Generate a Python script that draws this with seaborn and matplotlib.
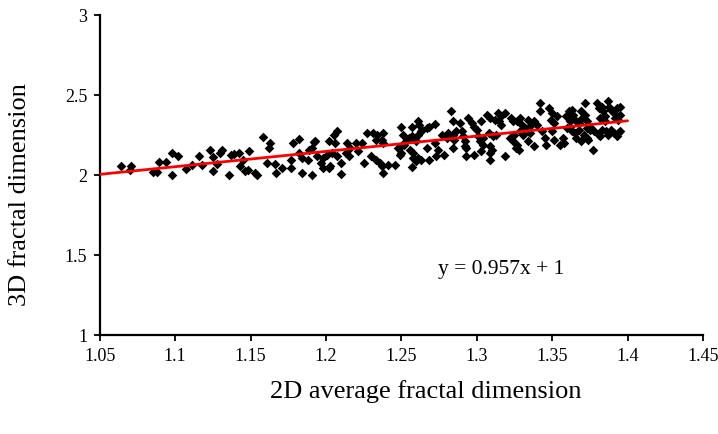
import numpy as np
import pandas as pd
import seaborn as sns
import matplotlib.pyplot as plt
from matplotlib.ticker import FuncFormatter, MultipleLocator

# values (2D avg fractal dim, 3D fractal dim)
x_2d = [
    1.064, 1.071, 1.070, 1.085, 1.088, 1.089, 1.094, 1.098, 1.102, 1.098, 1.107,
    1.111, 1.116, 1.118, 1.123, 1.125, 1.125, 1.128, 1.130, 1.131, 1.136, 1.137,
    1.139, 1.142, 1.143, 1.145, 1.146, 1.148, 1.149, 1.153, 1.154, 1.158, 1.163,
    1.162, 1.161, 1.166, 1.167,
    1.171, 1.178, 1.182, 1.177, 1.182, 1.184, 1.177, 1.184, 1.188, 1.189, 1.191,
    1.192, 1.193, 1.191, 1.194, 1.198, 1.197, 1.198, 1.202, 1.203, 1.201, 1.202,
    1.205, 1.207, 1.206, 1.204, 1.207, 1.210, 1.210, 1.213, 1.215, 1.214, 1.216,
    1.220, 1.221, 1.225, 1.224, 1.227,
    1.231, 1.234, 1.233, 1.238, 1.237, 1.238, 1.230, 1.233, 1.236, 1.237, 1.238,
    1.241, 1.246, 1.250, 1.251, 1.248, 1.250, 1.252, 1.253, 1.255, 1.249, 1.250,
    1.257, 1.261, 1.262, 1.257, 1.259, 1.260, 1.261, 1.263, 1.264, 1.267, 1.268,
    1.256, 1.258, 1.261, 1.260, 1.263, 1.258, 1.257, 1.267, 1.268, 1.272, 1.272,
    1.274, 1.273, 1.278, 1.277, 1.280, 1.281, 1.284, 1.285, 1.286, 1.283, 1.284,
    1.284,
    1.289, 1.290, 1.291, 1.292, 1.293, 1.293, 1.292, 1.294, 1.297, 1.298, 1.300,
    1.298, 1.303, 1.301, 1.302, 1.304, 1.304, 1.303, 1.307, 1.309, 1.312, 1.309,
    1.310, 1.309, 1.309, 1.308, 1.311, 1.313, 1.314, 1.316, 1.319, 1.315, 1.316,
    1.319, 1.323, 1.324, 1.322, 1.324, 1.325, 1.326, 1.327, 1.328, 1.327, 1.329,
    1.330, 1.332, 1.334, 1.336, 1.338, 1.340, 1.329, 1.331, 1.335, 1.334, 1.338,
    1.342, 1.342, 1.343, 1.345, 1.346,
    1.348, 1.350, 1.349, 1.351, 1.353, 1.350, 1.351, 1.357, 1.358, 1.355, 1.359,
    1.361, 1.363, 1.364, 1.362, 1.365, 1.368, 1.360, 1.362, 1.363, 1.365, 1.368,
    1.366, 1.369, 1.369, 1.372, 1.370, 1.372, 1.373, 1.371, 1.373, 1.374, 1.373,
    1.375, 1.377, 1.380, 1.381, 1.383, 1.384, 1.382, 1.385, 1.385, 1.387, 1.388,
    1.389, 1.391, 1.393, 1.395, 1.392, 1.394, 1.395, 1.378, 1.381, 1.382, 1.383,
    1.386, 1.387, 1.389, 1.391, 1.393, 1.394, 1.395, 1.375,
]
y_3d = [
    2.06, 2.06, 2.03, 2.02, 2.02, 2.08, 2.08, 2.14, 2.12, 2.00, 2.04,
    2.064, 2.117, 2.061, 2.158, 2.111, 2.027, 2.069, 2.138, 2.158, 2.002, 2.127,
    2.133, 2.138, 2.054, 2.096, 2.023, 2.033, 2.148, 2.013, 1.998, 2.237, 2.200,
    2.169, 2.075, 2.069, 2.013,
    2.044, 2.200, 2.227, 2.096, 2.138, 2.106, 2.044, 2.013, 2.096, 2.158, 2.169,
    2.206, 2.211, 2.002, 2.117, 2.106, 2.075, 2.044, 2.044, 2.054, 2.127, 2.211,
    2.252, 2.277, 2.200, 2.138, 2.117, 2.075, 2.006, 2.138, 2.117, 2.200, 2.169,
    2.200, 2.148, 2.075, 2.200, 2.263,
    2.263, 2.252, 2.221, 2.263, 2.221, 2.200, 2.117, 2.096, 2.075, 2.054, 2.013,
    2.065, 2.065, 2.304, 2.252, 2.169, 2.179, 2.189, 2.211, 2.231, 2.127, 2.138,
    2.304, 2.336, 2.314, 2.242, 2.231, 2.211, 2.252, 2.273, 2.283, 2.294, 2.304,
    2.158, 2.138, 2.106, 2.086, 2.096, 2.106, 2.048, 2.169, 2.096, 2.319, 2.200,
    2.158, 2.117, 2.127, 2.252, 2.231, 2.263, 2.252, 2.221, 2.273, 2.398, 2.336,
    2.169,
    2.325, 2.273, 2.242, 2.211, 2.169, 2.117, 2.179, 2.356, 2.325, 2.304, 2.283,
    2.127, 2.336, 2.242, 2.211, 2.231, 2.190, 2.148, 2.377, 2.356, 2.346, 2.179,
    2.158, 2.138, 2.096, 2.263, 2.242, 2.252, 2.388, 2.367, 2.388, 2.336, 2.315,
    2.117, 2.356, 2.336, 2.231, 2.211, 2.252, 2.169, 2.190, 2.158, 2.336, 2.356,
    2.315, 2.294, 2.346, 2.315, 2.336, 2.315, 2.273, 2.252, 2.263, 2.211, 2.179,
    2.450, 2.398, 2.273, 2.231, 2.190,
    2.419, 2.388, 2.346, 2.325, 2.367, 2.273, 2.221, 2.231, 2.200, 2.190, 2.367,
    2.398, 2.408, 2.377, 2.336, 2.346, 2.325, 2.294, 2.304, 2.273, 2.263, 2.283,
    2.231, 2.211, 2.398, 2.450, 2.356, 2.377, 2.336, 2.252, 2.231, 2.221, 2.294,
    2.304, 2.158, 2.450, 2.419, 2.429, 2.398, 2.356, 2.367, 2.336, 2.461, 2.429,
    2.408, 2.388, 2.419, 2.429, 2.356, 2.346, 2.377, 2.273, 2.252, 2.242, 2.283,
    2.273, 2.252, 2.283, 2.263, 2.242, 2.263, 2.273, 2.283,
]

# trendline as reported on the chart
slope, intercept = 0.957, 1.0
trend_x = [1.05, 1.40]

df = pd.DataFrame({"x": x_2d, "y": y_3d})

sns.set_style("ticks")
plt.rcParams["font.family"] = ["Liberation Serif", "DejaVu Serif"]
plt.rcParams["text.color"] = "black"
plt.rcParams["axes.labelcolor"] = "black"

fig = plt.figure(figsize=(7.18, 4.34), dpi=100)
ax = fig.add_axes([0.139, 0.228, 0.840, 0.737])

sns.scatterplot(data=df, x="x", y="y", marker="D", color="black",
                s=24, linewidth=0, ax=ax, zorder=3)
tx = np.array(trend_x)
ax.plot(tx, slope * tx + intercept, color="#ff0000", lw=2, zorder=4)

ax.set_xlim(1.05, 1.45)
ax.set_ylim(1, 3)
ax.xaxis.set_major_locator(MultipleLocator(0.05))
ax.yaxis.set_major_locator(MultipleLocator(0.5))
fmt = FuncFormatter(lambda v, p: f"{v:g}")
ax.xaxis.set_major_formatter(fmt)
ax.yaxis.set_major_formatter(fmt)
ax.tick_params(labelsize=13, length=4, width=1.3, colors="black",
               labelcolor="black", pad=5)

for side in ["top", "right"]:
    ax.spines[side].set_visible(False)
for side in ["left", "bottom"]:
    ax.spines[side].set_linewidth(1.6)
    ax.spines[side].set_color("black")

ax.set_xlabel("2D average fractal dimension", fontsize=19, color="black")
ax.xaxis.set_label_coords(0.54, -0.178)
ax.xaxis.label.set_va("center")
ax.set_ylabel("3D fractal dimension", fontsize=19, color="black")
ax.yaxis.set_label_coords(-0.133, 0.44)
ax.yaxis.label.set_va("center")

ax.text(1.316, 1.41, "y = 0.957x + 1", fontsize=15.5, ha="center",
        va="center", color="black")

fig.savefig("out.png", dpi=100)
